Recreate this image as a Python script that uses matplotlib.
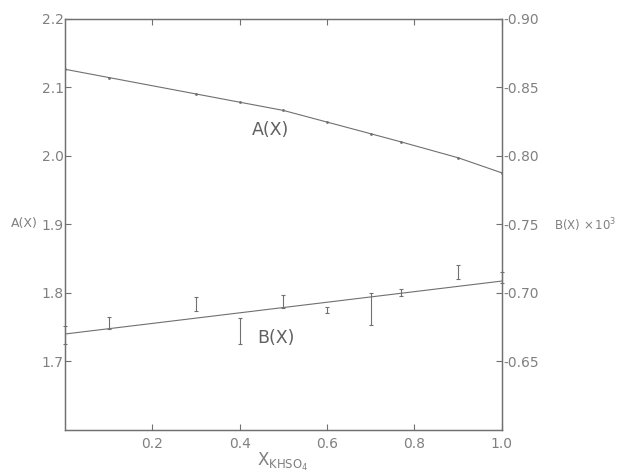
import matplotlib
matplotlib.use("Agg")
import matplotlib.pyplot as plt

# composition of KHSO4
x_pts = [0.0, 0.1, 0.3, 0.4, 0.5, 0.6, 0.7, 0.77, 0.9, 1.0]
# A(X)
a_vals = [2.126, 2.114, 2.090, 2.078, 2.066, 2.049, 2.032, 2.020, 1.997, 1.975]
# B(X) x 10^3 measured points with error bars
b_vals = [-0.669, -0.678, -0.692, -0.672, -0.6935, -0.6875, -0.688, -0.700, -0.715, -0.711]
b_err = [0.0066, 0.0043, 0.0049, 0.0094, 0.0048, 0.0024, 0.0118, 0.0025, 0.0051, 0.004]
# fitted straight line for B(X)
b_fit_x = [0.0, 1.0]
b_fit_y = [-0.670, -0.7086]

left_ticks = [1.7, 1.8, 1.9, 2.0, 2.1, 2.2]
right_ticks = [-0.65, -0.70, -0.75, -0.80, -0.85, -0.90]
x_ticks = [0.2, 0.4, 0.6, 0.8, 1.0]

col = '#707070'
tcol = '#808080'
plt.rcParams['font.family'] = ['DejaVu Sans']
plt.rcParams['font.size'] = 10

fig = plt.figure(figsize=(6.21, 4.75), dpi=100)
ax = fig.add_axes([0.1047, 0.0947, 0.7033, 0.8663])
ax2 = ax.twinx()

ax.plot(x_pts, a_vals, color=col, lw=0.8, marker='.', ms=2)
ax2.plot(b_fit_x, b_fit_y, color=col, lw=0.8)
eb = ax2.errorbar(x_pts, b_vals, yerr=b_err, fmt='none', ecolor=col, elinewidth=0.8,
                  capsize=1.5, capthick=0.8)
for part in eb.lines[1] + eb.lines[2]:
    part.set_clip_on(False)

ax.set_xlim(0, 1.0)
ax.set_ylim(1.6, 2.2)
ax2.set_ylim(-0.60, -0.90)

ax.set_xticks(x_ticks)
ax.set_xticklabels(['%.1f' % v for v in x_ticks])
ax.set_yticks(left_ticks)
ax.set_yticklabels(['%.1f' % v for v in left_ticks])
ax2.set_yticks(right_ticks)
ax2.set_yticklabels(['-%.2f' % abs(v) for v in right_ticks])

for a in (ax, ax2):
    for s in a.spines.values():
        s.set_color(col)
        s.set_linewidth(0.9)
    a.tick_params(direction='in', length=4, width=0.8, color=col, labelcolor=tcol,
                  labelsize=10)
ax.tick_params(axis='x', top=True, pad=5)
ax.tick_params(axis='y', pad=1)
ax2.tick_params(axis='y', pad=1)

ax.text(0.47, 2.037, 'A(X)', color='#606060', fontsize=12.5, ha='center', va='center')
ax.text(0.483, 1.734, 'B(X)', color='#606060', fontsize=12.5, ha='center', va='center')

fig.text(0.040, 0.5305, 'A(X)', color=tcol, fontsize=9, ha='center', va='center')
fig.text(0.942, 0.526, r'B(X) $\times\,10^{3}$', color=tcol, fontsize=8.5,
         ha='center', va='center')
fig.text(0.455, 0.027, r'X$_{\mathrm{KHSO_4}}$', color=tcol, fontsize=12,
         ha='center', va='center')

fig.savefig('out.png', dpi=100)
